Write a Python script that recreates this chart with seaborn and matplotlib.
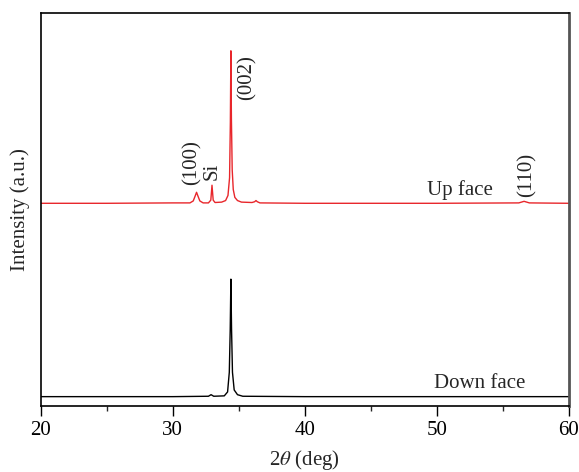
import matplotlib
matplotlib.use("Agg")
import matplotlib.pyplot as plt
import seaborn as sns
import pandas as pd

# Up face (red) pattern: 2theta (deg) and intensity (a.u., offset)
up_2theta = [20.0, 25.0, 30.0, 31.3, 31.55, 31.7, 31.8, 31.9, 32.05, 32.3, 32.7, 32.88, 32.97, 33.06,
             33.2, 33.7, 34.0, 34.18, 34.3, 34.36, 34.4, 34.44, 34.5, 34.58, 34.7, 34.9, 35.2, 36.0,
             36.2, 36.3, 36.4, 36.6, 40.0, 45.0, 50.0, 56.2, 56.5, 56.6, 56.7, 57.0, 60.0]
up_int = [51.5, 51.5, 51.6, 51.6, 52.1, 53.4, 54.3, 53.4, 52.1, 51.6, 51.6, 52.3, 56.1, 52.3,
          51.7, 51.8, 52.2, 53.5, 58.0, 72.0, 90.3, 73.0, 60.0, 55.0, 53.0, 52.2, 51.8, 51.7,
          51.9, 52.2, 51.9, 51.6, 51.5, 51.5, 51.5, 51.6, 51.9, 52.0, 51.9, 51.6, 51.5]

# Down face (black) pattern
down_2theta = [20.0, 25.0, 30.0, 32.7, 32.9, 33.1, 33.9, 34.15, 34.28, 34.35, 34.4, 34.45, 34.52,
               34.65, 34.9, 35.3, 40.0, 50.0, 60.0]
down_int = [2.3, 2.3, 2.3, 2.4, 2.8, 2.4, 2.5, 3.5, 8.5, 19.5, 32.2, 19.5, 8.5,
            4.0, 2.8, 2.4, 2.3, 2.3, 2.3]

xticks = [20, 30, 40, 50, 60]
minor_xticks = [25, 35, 45, 55]

sns.set_style("ticks")
plt.rcParams['font.family'] = ['Liberation Serif', 'DejaVu Serif']
plt.rcParams['mathtext.fontset'] = 'stix'

fig = plt.figure(figsize=(5.79, 4.72), dpi=100)
ax = fig.add_axes([0.0703, 0.1405, 0.9124, 0.8326])

df_up = pd.DataFrame({"x": up_2theta, "y": up_int})
df_down = pd.DataFrame({"x": down_2theta, "y": down_int})
sns.lineplot(data=df_up, x="x", y="y", ax=ax, color="#e8262b", linewidth=1.0, estimator=None, sort=False)
sns.lineplot(data=df_down, x="x", y="y", ax=ax, color="black", linewidth=1.0, estimator=None, sort=False)

ax.set_xlim(20, 60)
ax.set_ylim(0, 100)
ax.set_xticks(xticks)
ax.set_xticks(minor_xticks, minor=True)
ax.set_yticks([])
ax.tick_params(axis='x', which='major', direction='out', length=7, width=1, labelsize=15, pad=4,
               top=False, colors='black')
ax.tick_params(axis='x', which='minor', direction='out', length=3.5, width=1, top=False)
for name, s in ax.spines.items():
    s.set_linewidth(1.2)
    s.set_color('black')
ax.spines['right'].set_color('#555555')
ax.spines['right'].set_linewidth(2.0)

ax.set_xlabel(r"2$\theta$ (deg)", fontsize=15, labelpad=6)
ax.set_ylabel("Intensity (a.u.)", fontsize=15, labelpad=8)

fs = 15
ax.text(31.49, 56.2, "(100)", rotation=90, ha='center', va='bottom', fontsize=fs)
ax.text(33.0, 57.4, "Si", rotation=90, ha='center', va='bottom', fontsize=fs)
ax.text(35.65, 77.8, "(002)", rotation=90, ha='center', va='bottom', fontsize=fs)
ax.text(54.24, 53.6, "Up face", ha='right', va='baseline', fontsize=fs)
ax.text(56.85, 53.1, "(110)", rotation=90, ha='center', va='bottom', fontsize=fs)
ax.text(56.67, 4.5, "Down face", ha='right', va='baseline', fontsize=fs)

fig.savefig("out.png", dpi=100)
